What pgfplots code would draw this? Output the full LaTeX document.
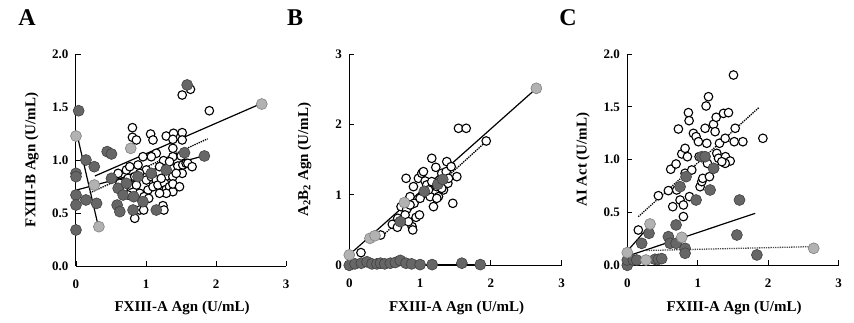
\documentclass[border=0pt]{standalone}
\usepackage{fontspec}
\setmainfont{Liberation Serif}
\usepackage{pgfplots}
\pgfplotsset{compat=1.18}
\definecolor{dk}{gray}{0.40}
\definecolor{lt}{gray}{0.70}
\newcommand{\tkf}{\bfseries\fontsize{13}{14}\selectfont}
\pgfplotsset{
 panel/.style={scale only axis, anchor=south west, xmin=0, xmax=3,
  axis lines*=left, tick align=inside, clip=false, xtick={0,1,2,3},
  major tick length=5pt,
  axis line style={line width=1pt, black},
  every tick/.style={line width=0.9pt, black},
  xticklabel={\tkf\pgfmathprintnumber[assume math mode=true]{\tick}},
  xticklabel style={yshift=-10pt},
  yticklabel style={xshift=-4pt},
  label style={font=\bfseries\fontsize{15}{17}\selectfont},
  xlabel={FXIII-A Agn (U/mL)},
  xlabel style={at={(axis description cs:0.505,-0.2)}, anchor=center},
  ylabel style={at={(axis description cs:-0.21,0.5)}, anchor=center},
 },
 yone/.style={yticklabel={\tkf\pgfmathprintnumber[assume math mode=true,fixed,fixed zerofill,precision=1]{\tick}}},
 yint/.style={yticklabel={\tkf\pgfmathprintnumber[assume math mode=true]{\tick}}},
 op/.style={only marks, mark=*, mark size=4.3pt, mark options={fill=white, draw=black, line width=1.1pt}},
 dkm/.style={only marks, mark=*, mark size=5.5pt, mark options={fill=dk, draw=black!75, line width=0.6pt}},
 ltm/.style={only marks, mark=*, mark size=5.5pt, mark options={fill=lt, draw=gray, line width=0.6pt}},
 sl/.style={no marks, black, line width=1.2pt},
 dl/.style={no marks, black, line width=1.3pt, densely dotted},
}
\begin{document}
\begin{tikzpicture}
\useasboundingbox (0,0) rectangle (854pt,322pt);
% ---------------- Panel A
\begin{axis}[panel, yone, at={(76pt,56pt)}, width=210pt, height=212pt,
  ymin=0, ymax=2, ytick={0,0.5,1,1.5,2},
  ylabel={FXIII-B Agn (U/mL)}]
\addplot[op] coordinates {
(0.806,1.305)(0.806,1.214)(0.863,1.189)(1.066,1.245)(1.100,1.189)(1.289,1.226)
(1.393,1.252)(1.517,1.258)(1.384,1.195)(1.384,1.110)(1.517,1.189)(1.384,1.031)
(1.147,1.063)(1.076,1.031)(1.251,0.994)(0.957,1.031)(1.005,0.906)(0.886,0.953)
(0.910,0.874)(1.194,0.937)(1.280,0.912)(1.336,0.984)(1.280,0.843)(1.384,0.843)
(1.455,0.943)(1.526,0.953)(1.517,0.874)(1.573,0.969)(1.502,1.038)(0.602,0.874)
(0.720,0.906)(0.744,0.827)(0.768,0.764)(0.863,0.764)(0.839,0.843)(1.005,0.811)
(1.076,0.843)(1.147,0.811)(1.028,0.717)(1.100,0.748)(1.171,0.764)(1.265,0.780)
(1.289,0.723)(1.218,0.827)(1.336,0.748)(1.384,0.701)(1.289,0.686)(1.194,0.686)
(0.626,0.780)(0.673,0.717)(0.744,0.670)(0.910,0.686)(0.972,0.654)(1.038,0.638)
(0.768,0.937)(1.384,0.774)(1.431,0.874)(1.479,0.748)(1.597,0.969)(1.659,0.937)
(0.910,0.528)(0.967,0.528)(1.242,0.569)(1.256,0.528)(0.839,0.450)
(1.517,1.613)(1.635,1.667)(1.905,1.465)
};
\addplot[dkm] coordinates {
(0.038,1.465)(0,0.874)(0,0.843)(0,0.670)(0,0.575)(0,0.340)
(0.142,1.0)(0.261,0.937)(0.445,1.079)(0.507,1.057)(0.142,0.623)(0.294,0.591)
(0.507,0.827)(0.602,0.733)(0.673,0.670)(0.588,0.575)(0.626,0.513)(0.815,0.528)
(0.957,0.607)(1.147,0.528)(0.720,0.780)(0.886,0.843)(1.076,0.874)(1.550,1.069)
(1.834,1.038)(1.588,1.708)(0.825,0.654)(1.289,0.906)
};
\addplot[ltm] coordinates {(0,1.226)(0.782,1.110)(0.261,0.764)(0.327,0.371)(2.654,1.528)};
\addplot[sl] coordinates {(0.27,0.849)(2.63,1.528)};
\addplot[sl] coordinates {(0.01,0.717)(1.82,1.038)};
\addplot[dl] coordinates {(0.2,0.69)(1.88,1.2)};
\addplot[sl] coordinates {(0.02,1.226)(0.32,0.371)};
\end{axis}
% ---------------- Panel B
\begin{axis}[panel, yint, at={(349.3pt,56.7pt)}, width=212.4pt, height=211.3pt,
  ymin=0, ymax=3, ytick={0,1,2,3},
  ylabel={A\textsubscript{2}B\textsubscript{2} Agn (U/mL)}]
\addplot[op] coordinates {
(0.165,0.18)(0.443,0.43)(0.608,0.582)(0.679,0.540)(0.731,0.833)(0.755,0.644)
(0.811,0.795)(0.802,1.235)(0.858,0.975)(0.887,0.549)(0.896,0.502)(0.906,1.117)
(0.943,0.681)(0.991,0.715)(0.976,1.235)(1.024,1.306)(1.047,1.330)(1.071,1.197)
(1.047,1.022)(1.094,1.141)(1.142,0.975)(1.165,1.519)(1.189,0.833)(1.222,1.391)
(1.236,1.117)(1.259,0.975)(1.283,1.188)(1.306,1.306)(1.330,1.070)(1.377,1.472)
(1.392,1.164)(1.368,1.330)(1.401,1.235)(1.439,1.401)(1.462,0.880)(1.519,1.259)
(1.542,1.945)(1.651,1.945)(1.934,1.765)(0.915,0.880)(0.788,0.715)(0.835,0.620)
(0.684,0.667)(0.858,0.857)(1.236,0.951)(1.306,1.093)(1.0,0.951)(1.118,1.070)
(1.165,1.188)
};
\addplot[dkm] coordinates {
(0,0.0)(0.08,0.02)(0.17,0.03)(0.25,0.05)(0.32,0.02)(0.39,0.02)(0.44,0.03)
(0.5,0.02)(0.58,0.03)(0.65,0.04)(0.72,0.07)(0.8,0.03)(0.88,0.02)(1.0,0.01)
(1.17,0.01)(1.59,0.03)(1.85,0.01)
(0.72,0.62)(1.06,1.05)(1.25,1.15)(1.32,1.22)
};
\addplot[ltm] coordinates {(0,0.147)(0.292,0.383)(0.363,0.42)(0.778,0.89)(2.642,2.513)};
\addplot[sl] coordinates {(0,0.15)(2.64,2.51)};
\addplot[dl] coordinates {(0.48,0.43)(1.93,1.756)};
\addplot[sl] coordinates {(0,0.01)(1.85,0.01)};
\end{axis}
% ---------------- Panel C
\begin{axis}[panel, yone, at={(627.3pt,56.7pt)}, width=211.4pt, height=211.3pt,
  ymin=0, ymax=2, ytick={0,0.5,1,1.5,2},
  ylabel={AI Act (U/mL)}]
\addplot[op] coordinates {
(0.156,0.334)(0.441,0.659)(0.583,0.707)(0.645,0.555)(0.616,0.909)(0.692,0.959)
(0.725,1.290)(0.773,1.054)(0.701,0.713)(0.749,0.618)(0.796,0.571)(0.796,0.461)
(0.82,1.107)(0.853,1.028)(0.82,0.871)(0.867,1.445)(0.877,1.369)(0.882,0.650)
(0.915,0.902)(0.938,1.249)(0.976,1.218)(1.009,1.170)(1.033,0.744)(1.057,0.792)
(1.071,0.823)(1.104,1.297)(1.118,1.508)(1.152,1.596)(1.128,1.155)(1.137,0.965)
(1.166,0.839)(1.223,1.334)(1.246,1.265)(1.261,1.401)(1.270,1.060)(1.294,1.013)
(1.308,1.155)(1.365,1.438)(1.389,1.202)(1.393,1.028)(1.436,1.445)(1.460,0.987)
(1.389,0.965)(1.531,1.297)(1.507,1.801)(1.517,1.170)(1.640,1.170)(1.924,1.202)
(1.237,0.918)(1.341,0.981)(1.019,1.028)
};
\addplot[dkm] coordinates {
(0,0)(0,0.05)(0.085,0.05)(0.133,0.05)(0.204,0.208)(0.308,0.303)
(0.393,0.057)(0.441,0.057)(0.488,0.063)(0.583,0.271)(0.607,0.208)(0.692,0.382)
(0.692,0.208)(0.82,0.161)(0.82,0.114)(0.976,0.618)(1.057,1.028)(1.104,1.028)
(1.175,0.713)(0.749,0.744)(0.834,0.839)(1.592,0.618)(1.555,0.287)(1.839,0.098)
(1.223,0.918)
};
\addplot[ltm] coordinates {(0,0.12)(0.322,0.391)(0.265,0.05)(0.773,0.265)(2.645,0.161)};
\addplot[dl] coordinates {(0.156,0.46)(1.87,1.495)};
\addplot[sl] coordinates {(0.06,0.1)(1.815,0.492)};
\addplot[no marks, densely dotted, line width=1.3pt, black!70] coordinates {(0.27,0.14)(2.64,0.177)};
\addplot[sl] coordinates {(0.02,0.15)(0.35,0.4)};
\end{axis}
\node[font=\bfseries\fontsize{24}{24}\selectfont] at (27pt,304pt) {A};
\node[font=\bfseries\fontsize{24}{24}\selectfont] at (295pt,304pt) {B};
\node[font=\bfseries\fontsize{24}{24}\selectfont] at (568pt,304pt) {C};
\end{tikzpicture}
\end{document}
